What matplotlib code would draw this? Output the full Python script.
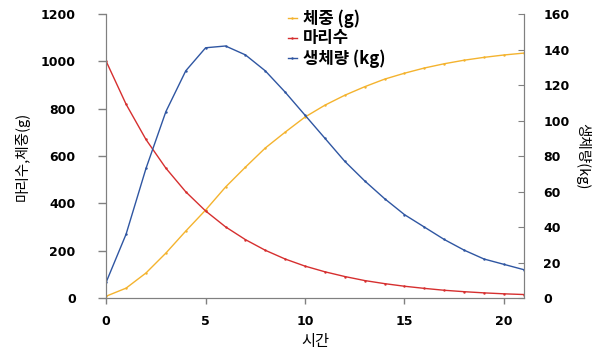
import matplotlib
matplotlib.use("Agg")
import matplotlib.pyplot as plt

# values
t = list(range(22))
weight_g = [8, 42, 106, 190, 283, 372, 469, 553, 634, 701, 765,
            815, 857, 893, 925, 950, 972, 990, 1005, 1017, 1027, 1035]
count = [1000, 819, 670, 549, 449, 368, 301, 247, 202, 165, 135,
         111, 91, 74, 61, 50, 41, 33, 27, 22, 18, 15]
biomass_kg = [9, 36, 73, 105, 128, 141, 142, 137, 128, 116, 103,
              90, 77, 66, 56, 47, 40, 33, 27, 22, 19, 16]

KR = ['Noto Sans CJK KR', 'DejaVu Sans']
plt.rcParams['font.family'] = KR

fig = plt.figure(figsize=(6, 3.6), dpi=100)
ax = fig.add_axes([0.177, 0.172, 0.696, 0.789])
ax2 = ax.twinx()

l1, = ax.plot(t, weight_g, color='#f4b32e', lw=1, marker='.', ms=1.5, label='체중 (g)')
l2, = ax.plot(t, count, color='#d62f2f', lw=1, marker='.', ms=1.5, label='마리수')
l3, = ax2.plot(t, biomass_kg, color='#2f56a2', lw=1, marker='.', ms=1.5, label='생체량 (kg)')

ax.set_xlim(0, 21)
ax.set_ylim(0, 1200)
ax2.set_ylim(0, 160)
ax.set_xticks([0, 5, 10, 15, 20])
ax.set_yticks(range(0, 1201, 200))
ax2.set_yticks(range(0, 161, 20))

for a in (ax, ax2):
    a.spines['top'].set_visible(False)
    for s in a.spines.values():
        s.set_color('#808080')
    for lab in a.get_xticklabels() + a.get_yticklabels():
        lab.set_fontweight('bold')
        lab.set_fontsize(9)
        lab.set_family('DejaVu Sans')
ax.tick_params(colors='#808080', labelcolor='black', length=6, width=1)
ax2.tick_params(colors='#808080', labelcolor='black', direction='in', length=4, pad=14)
ax.tick_params(axis='x', length=4, pad=8)
ax.tick_params(axis='y', pad=16)

ax.set_xlabel('시간', fontsize=11)
ax.set_ylabel('마리수,체중(g)', fontsize=10.5, labelpad=8)
ax2.set_ylabel('생체량(kg)', fontsize=10.5, rotation=-90, labelpad=15)

leg = ax.legend(handles=[l1, l2, l3], loc='upper left', bbox_to_anchor=(0.4, 1.07),
                frameon=False, handlelength=0.5, handletextpad=0.4,
                labelspacing=0.1, prop={'family': KR, 'weight': 'bold', 'size': 12})

fig.savefig('out.png', dpi=100)
